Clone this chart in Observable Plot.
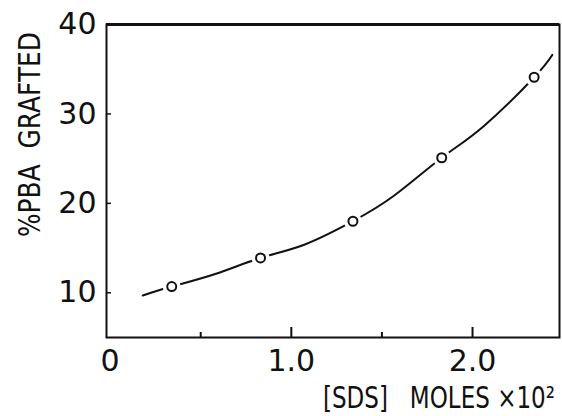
<!DOCTYPE html>
<html>
<head>
<meta charset="utf-8">
<script src="https://cdn.jsdelivr.net/npm/d3@7"></script>
<script src="https://cdn.jsdelivr.net/npm/@observablehq/plot@0.6"></script>
<style>
  html, body { margin: 0; padding: 0; background: #fff; }
  #chart svg { display: block; }
</style>
</head>
<body>
<div id="chart"></div>
<script>
// Measured data points (SDS concentration, moles x 10^2 ; % PBA grafted)
const sdsMoles = [0.34, 0.83, 1.34, 1.83, 2.34];
const pbaGrafted = [10.7, 13.9, 18.0, 25.1, 34.1];

// Hand-drawn smooth curve through the points
const curveX = [0.18, 0.34, 0.58, 0.83, 1.075, 1.34, 1.57, 1.83, 2.06, 2.34, 2.44];
const curveY = [9.7, 10.7, 12.1, 13.9, 15.4, 18.0, 20.9, 25.1, 28.6, 34.1, 36.6];

// Axis ticks
const xLabelTicks = [0, 1, 2];
const xMajorTicks = [1, 2];
const xMinorTicks = [0.5, 1.5];
const yTicks = [10, 20, 30, 40];
const yInnerTicks = [10, 20, 30];

const yLabel = "%PBA  GRAFTED";
const xLabel = "[SDS]   MOLES ×10²";

const points = sdsMoles.map((x, i) => ({x, y: pbaGrafted[i]}));
const curve = curveX.map((x, i) => ({x, y: curveY[i]}));

const W = 562, H = 416;
const mL = 106, mT = 24, mR = 3, mB = 79;
const innerW = W - mL - mR, innerH = H - mT - mB;
const font = "'DejaVu Sans', sans-serif";
const labelSize = 30;

const chart = Plot.plot({
  width: W,
  height: H,
  marginLeft: mL,
  marginTop: mT,
  marginRight: mR,
  marginBottom: mB,
  style: {fontFamily: font, color: "#111", background: "#fff"},
  x: {domain: [-0.02, 2.48]},
  y: {domain: [5, 40]},
  marks: [
    Plot.frame({stroke: "#111", strokeWidth: 2}),
    Plot.ruleY([40], {stroke: "#111", strokeWidth: 3}),
    Plot.tickX(xMajorTicks, {stroke: "#111", strokeWidth: 2, insetTop: innerH - 10}),
    Plot.tickX(xMinorTicks, {stroke: "#111", strokeWidth: 2, insetTop: innerH - 5}),
    Plot.tickY(yInnerTicks, {stroke: "#111", strokeWidth: 1.5, insetRight: innerW - 5}),
    Plot.axisX(xLabelTicks, {
      tickSize: 0,
      tickPadding: 12,
      fontSize: 30,
      tickFormat: d => d === 0 ? "0" : d.toFixed(1),
      label: null
    }),
    Plot.axisY(yTicks, {
      tickSize: 0,
      tickPadding: 10,
      fontSize: 30,
      label: null
    }),
    Plot.text([yLabel], {frameAnchor: "left", textAnchor: "start", fontSize: labelSize, fill: "#111"}),
    Plot.text([xLabel], {frameAnchor: "bottom-left", textAnchor: "start", fontSize: labelSize, fill: "#111"}),
    Plot.line(curve, {x: "x", y: "y", curve: "natural", stroke: "#111", strokeWidth: 2}),
    Plot.dot(points, {x: "x", y: "y", r: 9, fill: "#fff", stroke: "none"}),
    Plot.dot(points, {x: "x", y: "y", r: 4.5, fill: "#fff", stroke: "#111", strokeWidth: 2})
  ]
});

document.getElementById("chart").appendChild(chart);

// Place the axis titles like the original's narrow hand lettering:
// start point of the baseline, rotation, and overall length in pixels.
const labelFit = new Map([
  [yLabel, {x: 40, y: 237, rotate: -90, length: 205}],
  [xLabel, {x: 323, y: 408, rotate: 0, length: 232}]
]);
const ctx = document.createElement("canvas").getContext("2d");
ctx.font = `${labelSize}px 'DejaVu Sans', sans-serif`;
const labelNodes = [];
d3.select(chart).selectAll("text").each(function () {
  if (labelFit.has(this.textContent)) labelNodes.push(this);
});
for (const el of labelNodes) {
  const fit = labelFit.get(el.textContent);
  let natural = ctx.measureText(el.textContent).width;
  if (!(natural > 0)) natural = el.getComputedTextLength();
  const sx = natural > 0 ? fit.length / natural : 1;
  ["x", "y", "dy", "dx", "transform"].forEach(a => el.removeAttribute(a));
  el.setAttribute("font-size", labelSize);
  el.setAttribute("font-family", font);
  el.setAttribute("fill", "#111");
  el.setAttribute("text-anchor", "start");
  el.setAttribute("transform", `translate(${fit.x},${fit.y}) rotate(${fit.rotate}) scale(${sx.toFixed(4)},1)`);
  chart.appendChild(el);
}
</script>
</body>
</html>
